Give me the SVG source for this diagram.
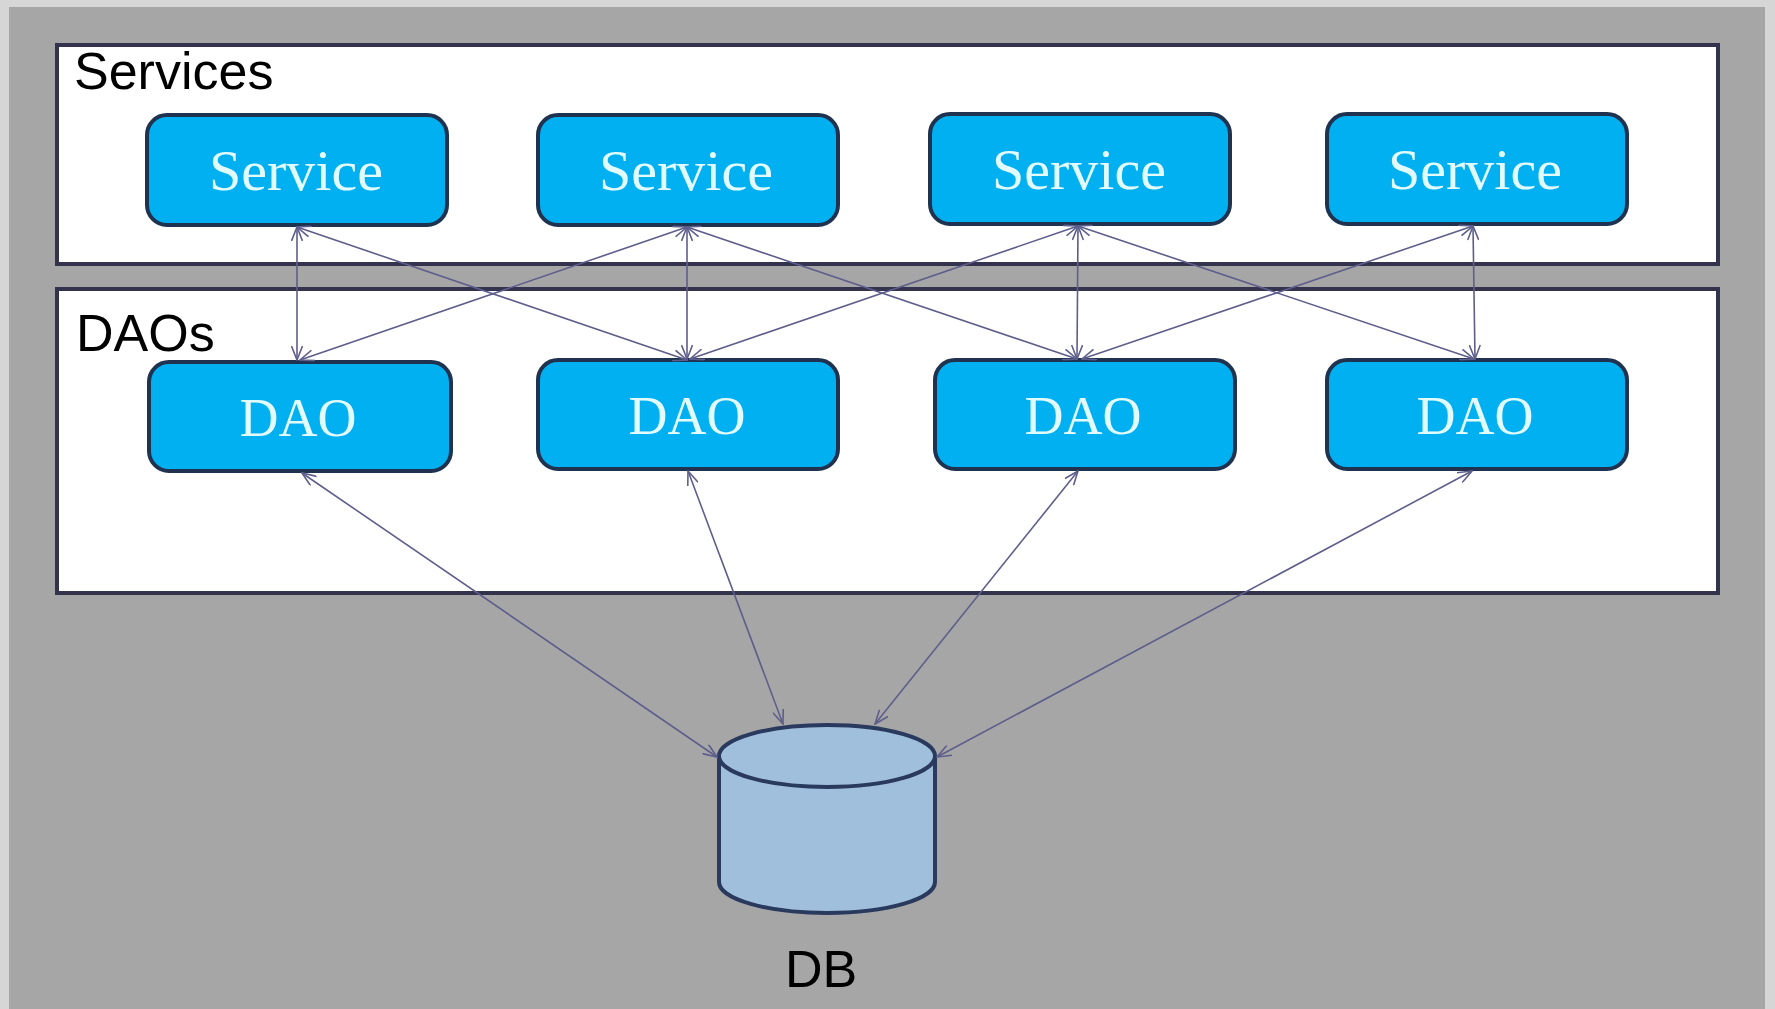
<svg xmlns="http://www.w3.org/2000/svg" width="1775" height="1009" viewBox="0 0 1775 1009">
<style>
.panel{fill:#ffffff;stroke:#33334d;stroke-width:4}
.box{fill:#00b0f0;stroke:#1f3350;stroke-width:4}
.lbl{font-family:"Liberation Sans",Arial,sans-serif;font-size:52px;fill:#000}
.btxt{font-family:"Liberation Serif","Times New Roman",serif;font-size:58px;fill:#e2fbff;text-anchor:middle}
.dtxt{font-size:54px}
.conn{stroke:#5e5e8c;stroke-width:1.6;fill:none;marker-start:url(#ah);marker-end:url(#ah)}
</style>
<defs>
<marker id="ah" viewBox="0 0 16 12" refX="15" refY="6" markerWidth="16" markerHeight="12" markerUnits="userSpaceOnUse" orient="auto-start-reverse">
<path d="M1,0.5 L15,6 L1,11.5" fill="none" stroke="#5e5e8c" stroke-width="1.6"/>
</marker>
</defs>
<rect x="0" y="0" width="1775" height="1009" fill="#d6d6d6"/>
<rect x="9" y="7" width="1756" height="1002" fill="#a6a6a6"/>
<g id="services-panel">
<rect class="panel" x="57" y="45" width="1661" height="219"/>
<text class="lbl" x="74" y="89">Services</text>
</g>
<g id="daos-panel">
<rect class="panel" x="57" y="289" width="1661" height="304"/>
<text class="lbl" x="76" y="351">DAOs</text>
</g>
<g id="service1"><rect class="box" x="147" y="115" width="300" height="110" rx="20"/><text class="btxt" x="296" y="190">Service</text></g>
<g id="service2"><rect class="box" x="538" y="115" width="300" height="110" rx="20"/><text class="btxt" x="686" y="190">Service</text></g>
<g id="service3"><rect class="box" x="930" y="114" width="300" height="110" rx="20"/><text class="btxt" x="1079" y="189">Service</text></g>
<g id="service4"><rect class="box" x="1327" y="114" width="300" height="110" rx="20"/><text class="btxt" x="1475" y="189">Service</text></g>
<g id="dao1"><rect class="box" x="149" y="362" width="302" height="109" rx="20"/><text class="btxt dtxt" x="298" y="436">DAO</text></g>
<g id="dao2"><rect class="box" x="538" y="360" width="300" height="109" rx="20"/><text class="btxt dtxt" x="687" y="434">DAO</text></g>
<g id="dao3"><rect class="box" x="935" y="360" width="300" height="109" rx="20"/><text class="btxt dtxt" x="1083" y="434">DAO</text></g>
<g id="dao4"><rect class="box" x="1327" y="360" width="300" height="109" rx="20"/><text class="btxt dtxt" x="1475" y="434">DAO</text></g>
<g id="db">
<path d="M719,756 L719,882 A108,31 0 0 0 935,882 L935,756" fill="#9fbfdc" stroke="#2a3a5e" stroke-width="4"/>
<ellipse cx="827" cy="756" rx="108" ry="31" fill="#9fbfdc" stroke="#2a3a5e" stroke-width="4"/>
<text class="lbl" x="821" y="987" text-anchor="middle">DB</text>
</g>
<g id="connectors">
<line class="conn" x1="297" y1="227" x2="297" y2="360"/>
<line class="conn" x1="297" y1="227" x2="687" y2="360"/>
<line class="conn" x1="687" y1="227" x2="300" y2="360"/>
<line class="conn" x1="687" y1="227" x2="687" y2="359"/>
<line class="conn" x1="687" y1="227" x2="1077" y2="359"/>
<line class="conn" x1="1078" y1="226" x2="690" y2="359"/>
<line class="conn" x1="1078" y1="226" x2="1077" y2="359"/>
<line class="conn" x1="1078" y1="226" x2="1474" y2="359"/>
<line class="conn" x1="1473" y1="226" x2="1082" y2="359"/>
<line class="conn" x1="1473" y1="226" x2="1475" y2="359"/>
<line class="conn" x1="302" y1="473" x2="717" y2="757"/>
<line class="conn" x1="688" y1="471" x2="783" y2="724"/>
<line class="conn" x1="1078" y1="471" x2="875" y2="724"/>
<line class="conn" x1="1472" y1="471" x2="937" y2="757"/>
</g>
</svg>
